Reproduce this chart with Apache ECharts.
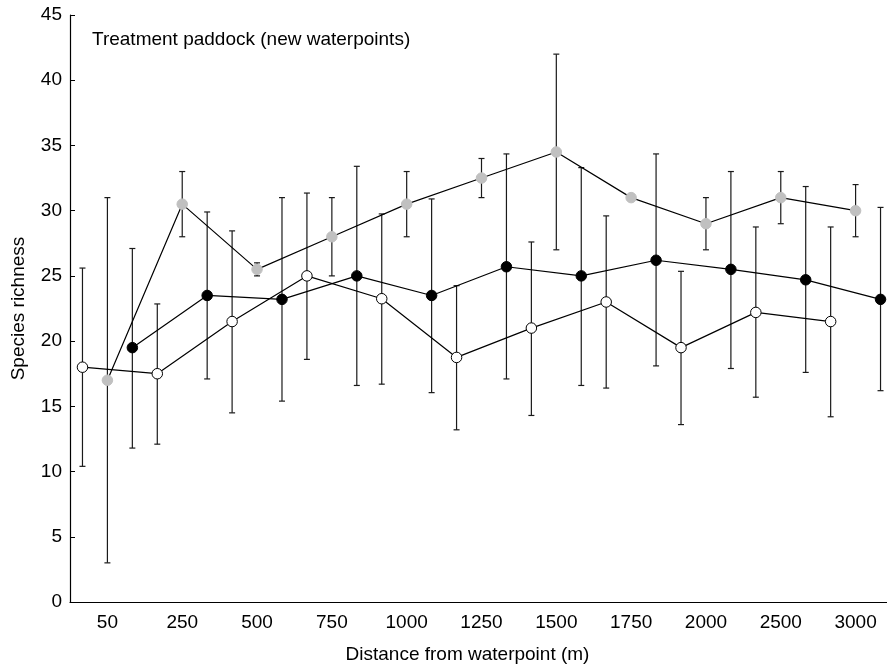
<!DOCTYPE html>
<html><head><meta charset="utf-8">
<script src="https://cdn.jsdelivr.net/npm/echarts@6/dist/echarts.min.js"></script>
<style>html,body{margin:0;padding:0;background:#fff}#c{width:887px;height:668px}</style>
</head><body><div id="c"></div>
<script>
const categories = ['50','250','500','750','1000','1250','1500','1750','2000','2500','3000'];
const yTicks = [0,5,10,15,20,25,30,35,40,45];
const greyMean = [17,30.5,25.5,28,30.5,32.5,34.5,31,29,31,30];
const greyLow  = [3,28,25,25,28,31,27,31,27,29,28];
const greyHigh = [31,33,26,31,33,34,42,31,31,33,32];
const blackMean = [19.5,23.5,23.2,25,23.5,25.7,25,26.2,25.5,24.7,23.2];
const blackLow  = [11.8,17.1,15.4,16.6,16.05,17.1,16.6,18.1,17.9,17.6,16.2];
const blackHigh = [27.1,29.9,31.0,33.4,30.9,34.35,33.3,34.35,33.0,31.85,30.25];
const whiteMean = [18,17.5,21.5,25,23.25,18.75,21,23,19.5,22.2,21.5];
const whiteLow  = [10.4,12.1,14.5,18.6,16.7,13.2,14.3,16.4,13.6,15.7,14.2];
const whiteHigh = [25.6,22.85,28.45,31.35,29.75,24.25,27.6,29.6,25.35,28.75,28.75];
const titleText = 'Treatment paddock (new waterpoints)';
const xName = 'Distance from waterpoint (m)';
const yName = 'Species richness';

const FONT = '"Liberation Sans", Arial, Helvetica, sans-serif';
const FS = 19;
const off = {white: -1/3, grey: 0, black: 1/3};

function pts(mean, o){ return mean.map((v,i)=>[i+o, v]); }
function errs(lo, hi, o){ return lo.map((v,i)=>[i+o, v, hi[i]]); }

function errItem(params, api){
  const x = api.value(0), lo = api.value(1), hi = api.value(2);
  const p1 = api.coord([x, lo]), p2 = api.coord([x, hi]);
  const w = 3;
  const style = {stroke:'#1a1a1a', lineWidth:1.2};
  return {type:'group', children:[
    {type:'line', shape:{x1:p1[0],y1:p1[1],x2:p2[0],y2:p2[1]}, style},
    {type:'line', shape:{x1:p1[0]-w,y1:p1[1],x2:p1[0]+w,y2:p1[1]}, style},
    {type:'line', shape:{x1:p2[0]-w,y1:p2[1],x2:p2[0]+w,y2:p2[1]}, style}
  ]};
}

function errSeries(lo, hi, o){
  return {type:'custom', xAxisIndex:1, yAxisIndex:0, renderItem:errItem,
    data: errs(lo, hi, o), z:1, silent:true};
}
function lineSeries(mean, o, fill, border){
  return {type:'line', xAxisIndex:1, yAxisIndex:0, data:pts(mean,o),
    symbol:'circle', symbolSize:10.5, showAllSymbol:true, z:3,
    itemStyle:{color:fill, borderColor:border, borderWidth:1},
    lineStyle:{color:'#000', width:1.2}};
}

const chart = echarts.init(document.getElementById('c'), null, {renderer:'canvas'});
chart.setOption({
  animation:false,
  backgroundColor:'#fff',
  textStyle:{fontFamily:FONT},
  title:{text:titleText, left:87, top:25,
    textStyle:{fontFamily:FONT, fontSize:FS, fontWeight:'normal', color:'#000'}},
  grid:{left:70, right:-6, top:15, bottom:66, containLabel:false, outerBoundsMode:'none'},
  xAxis:[
    {type:'category', data:categories, boundaryGap:true,
     name:xName, nameLocation:'middle', nameGap:43,
     nameTextStyle:{fontFamily:FONT, fontSize:FS, color:'#000', padding:[0,28,0,0]},
     axisLine:{onZero:false, lineStyle:{color:'#000', width:1.2}},
     axisTick:{alignWithLabel:true, inside:true, length:5, lineStyle:{color:'#000'}},
     axisLabel:{fontFamily:FONT, fontSize:FS, color:'#000', margin:11, interval:0},
     splitLine:{show:false}},
    {type:'value', min:-0.5, max:10.5, show:false, axisLine:{onZero:false}}
  ],
  yAxis:{type:'value', min:0, max:45, interval:5,
    name:yName, nameLocation:'middle', nameGap:42,
    nameTextStyle:{fontFamily:FONT, fontSize:FS, color:'#000'},
    axisLine:{show:true, onZero:false, lineStyle:{color:'#000', width:1.2}},
    axisTick:{show:true, inside:true, length:5, lineStyle:{color:'#000'}},
    axisLabel:{fontFamily:FONT, fontSize:FS, color:'#000', margin:8,
      formatter:v=>yTicks.includes(v)?String(v):''},
    splitLine:{show:false}},
  series:[
    errSeries(whiteLow, whiteHigh, off.white),
    errSeries(greyLow, greyHigh, off.grey),
    errSeries(blackLow, blackHigh, off.black),
    lineSeries(whiteMean, off.white, '#fff', '#000'),
    lineSeries(greyMean, off.grey, '#c0c0c0', '#c0c0c0'),
    lineSeries(blackMean, off.black, '#000', '#000')
  ]
});
</script></body></html>
